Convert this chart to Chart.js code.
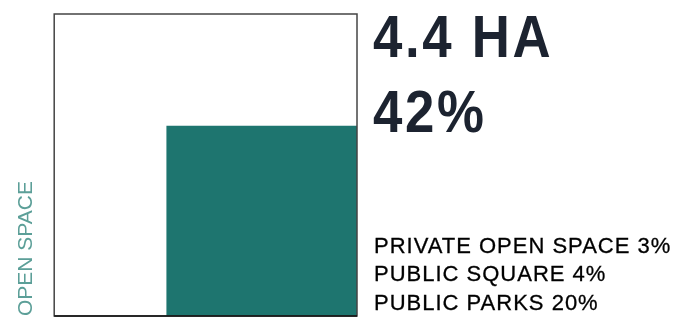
<!DOCTYPE html>
<html>
<head>
<meta charset="utf-8">
<script src="https://cdn.jsdelivr.net/npm/chart.js@4.4.1/dist/chart.umd.min.js"></script>
<style>
  html, body { margin: 0; padding: 0; background: #fff; }
  #wrap { position: relative; width: 683px; height: 327px; overflow: hidden; }
  #chart { position: absolute; left: 0; top: 0; }
  .big {
    position: absolute; left: 373px; margin: 0;
    font-family: "Liberation Sans", Arial, sans-serif; font-weight: bold;
    font-size: 60px; line-height: 60px; color: #1c2330;
    transform: scaleX(0.88); transform-origin: left top; letter-spacing: 3px; white-space: nowrap;
  }
  #parts {
    position: absolute; left: 374px; top: 232px; margin: 0; padding: 0; list-style: none;
    font-family: "Liberation Sans", Arial, sans-serif; font-size: 22px; line-height: 28.4px;
    color: #000; letter-spacing: 1px; white-space: nowrap;
    -webkit-text-stroke: 0.3px #000;
  }
</style>
</head>
<body>
<div id="wrap">
  <canvas id="chart" width="683" height="327"></canvas>
  <div class="big" id="area-text" style="top:7px"></div>
  <div class="big" id="share-text" style="top:82px"></div>
  <ul id="parts"></ul>
</div>
<script>
// headline values
const areaHa = 4.4;
const openShare = 42;             // % of site that is open space
// filled square side (fraction of the outer square side)
const filledSide = 0.63;
// breakdown
const partLabels = ['PRIVATE OPEN SPACE', 'PUBLIC SQUARE', 'PUBLIC PARKS'];
const partValues = [3, 4, 20];
const axisLabel = 'OPEN SPACE';

document.getElementById('area-text').textContent = areaHa.toFixed(1) + ' HA';
document.getElementById('share-text').textContent = openShare + '%';
const list = document.getElementById('parts');
partLabels.forEach((lab, i) => {
    const li = document.createElement('li');
    li.textContent = lab + ' ' + partValues[i] + '%';
    list.appendChild(li);
});

// outline of the whole site square
const frame = {
    id: 'frame',
    afterDatasetsDraw(chart) {
        const { ctx, chartArea: a } = chart;
        ctx.save();
        ctx.strokeStyle = '#444';
        ctx.lineWidth = 1.5;
        ctx.strokeRect(a.left, a.top, a.right - a.left, a.bottom - a.top);
        // bottom edge is darker in the original
        ctx.strokeStyle = '#111';
        ctx.beginPath();
        ctx.moveTo(a.left, a.bottom);
        ctx.lineTo(a.right, a.bottom);
        ctx.stroke();
        ctx.restore();
    }
};

new Chart(document.getElementById('chart'), {
    type: 'line',
    data: {
        datasets: [{
            data: [
                { x: 1 - filledSide, y: filledSide },
                { x: 1, y: filledSide }
            ],
            fill: 'origin',
            backgroundColor: '#1e756f',
            borderWidth: 0,
            pointRadius: 0,
            tension: 0
        }]
    },
    options: {
        responsive: false,
        animation: false,
        layout: { padding: { left: 14, top: 14, right: 326, bottom: 11 } },
        plugins: { legend: { display: false }, tooltip: { enabled: false } },
        scales: {
            x: { type: 'linear', min: 0, max: 1, display: false },
            y: {
                type: 'linear', min: 0, max: 1,
                ticks: { display: false },
                grid: { display: false, drawTicks: false },
                border: { display: false },
                title: {
                    display: true, text: axisLabel, align: 'start',
                    color: '#5c9f98',
                    font: { family: 'Liberation Sans, Arial, sans-serif', size: 21, weight: 'normal' },
                    padding: { top: 0, bottom: 15 }
                }
            }
        }
    },
    plugins: [frame]
});
</script>
</body>
</html>
